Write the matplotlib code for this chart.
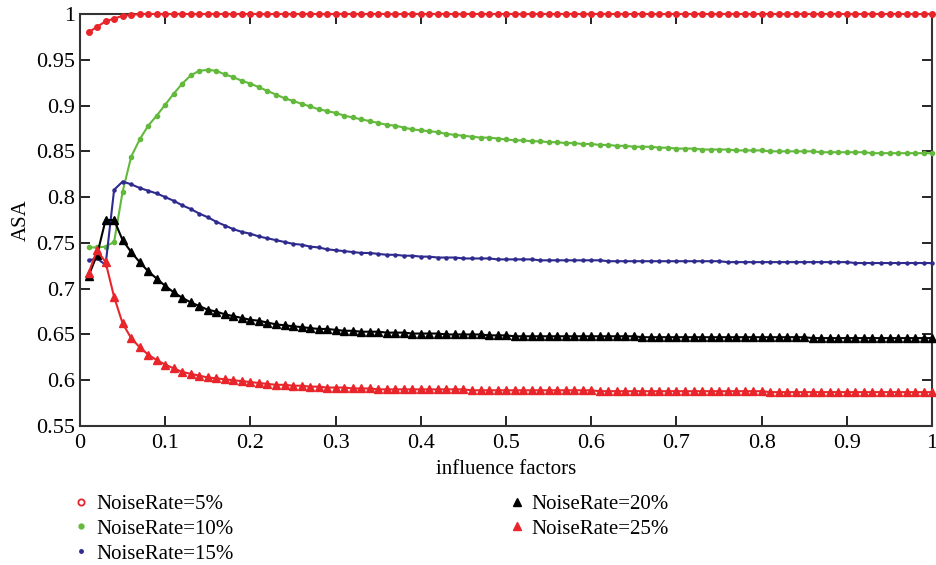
import matplotlib.pyplot as plt
from matplotlib.lines import Line2D
import numpy as np

plt.rcParams['font.family'] = ['Liberation Serif', 'DejaVu Serif']

# influence factor steps 0.01 .. 1.00
x = np.round(np.arange(1, 101) * 0.01, 2)

noise_5 = [0.980, 0.986, 0.992, 0.995, 0.998, 0.999, 1.000, 1.000, 1.000, 1.000,
           1.000, 1.000, 1.000, 1.000, 1.000, 1.000, 1.000, 1.000, 1.000, 1.000,
           1.000, 1.000, 1.000, 1.000, 1.000, 1.000, 1.000, 1.000, 1.000, 1.000,
           1.000, 1.000, 1.000, 1.000, 1.000, 1.000, 1.000, 1.000, 1.000, 1.000,
           1.000, 1.000, 1.000, 1.000, 1.000, 1.000, 1.000, 1.000, 1.000, 1.000,
           1.000, 1.000, 1.000, 1.000, 1.000, 1.000, 1.000, 1.000, 1.000, 1.000,
           1.000, 1.000, 1.000, 1.000, 1.000, 1.000, 1.000, 1.000, 1.000, 1.000,
           1.000, 1.000, 1.000, 1.000, 1.000, 1.000, 1.000, 1.000, 1.000, 1.000,
           1.000, 1.000, 1.000, 1.000, 1.000, 1.000, 1.000, 1.000, 1.000, 1.000,
           1.000, 1.000, 1.000, 1.000, 1.000, 1.000, 1.000, 1.000, 1.000, 1.000]

noise_10 = [0.745, 0.745, 0.746, 0.751, 0.806, 0.844, 0.863, 0.878, 0.889, 0.901,
            0.913, 0.924, 0.933, 0.938, 0.939, 0.938, 0.934, 0.931, 0.927, 0.924,
            0.920, 0.916, 0.912, 0.908, 0.905, 0.902, 0.899, 0.896, 0.894, 0.892,
            0.889, 0.887, 0.885, 0.883, 0.881, 0.879, 0.878, 0.876, 0.874, 0.873,
            0.872, 0.871, 0.869, 0.868, 0.867, 0.866, 0.865, 0.865, 0.864, 0.863,
            0.862, 0.862, 0.861, 0.861, 0.860, 0.860, 0.859, 0.859, 0.858, 0.858,
            0.857, 0.857, 0.856, 0.856, 0.855, 0.855, 0.855, 0.854, 0.854, 0.853,
            0.853, 0.853, 0.852, 0.852, 0.852, 0.852, 0.851, 0.851, 0.851, 0.851,
            0.850, 0.850, 0.850, 0.850, 0.850, 0.850, 0.849, 0.849, 0.849, 0.849,
            0.849, 0.849, 0.848, 0.848, 0.848, 0.848, 0.848, 0.848, 0.848, 0.848]

noise_15 = [0.731, 0.733, 0.726, 0.808, 0.817, 0.814, 0.810, 0.807, 0.804, 0.800,
            0.796, 0.791, 0.787, 0.782, 0.778, 0.773, 0.769, 0.765, 0.762, 0.760,
            0.757, 0.755, 0.753, 0.751, 0.749, 0.748, 0.746, 0.745, 0.743, 0.742,
            0.741, 0.740, 0.739, 0.739, 0.738, 0.737, 0.737, 0.736, 0.736, 0.735,
            0.735, 0.734, 0.734, 0.734, 0.733, 0.733, 0.733, 0.733, 0.732, 0.732,
            0.732, 0.732, 0.732, 0.731, 0.731, 0.731, 0.731, 0.731, 0.731, 0.731,
            0.731, 0.730, 0.730, 0.730, 0.730, 0.730, 0.730, 0.730, 0.730, 0.730,
            0.730, 0.730, 0.730, 0.730, 0.730, 0.729, 0.729, 0.729, 0.729, 0.729,
            0.729, 0.729, 0.729, 0.729, 0.729, 0.729, 0.729, 0.729, 0.729, 0.729,
            0.728, 0.728, 0.728, 0.728, 0.728, 0.728, 0.728, 0.728, 0.728, 0.728]

noise_20 = [0.714, 0.737, 0.775, 0.775, 0.753, 0.740, 0.729, 0.719, 0.711, 0.703,
            0.696, 0.690, 0.685, 0.681, 0.677, 0.675, 0.672, 0.670, 0.668, 0.666,
            0.665, 0.663, 0.661, 0.660, 0.659, 0.658, 0.657, 0.656, 0.656, 0.655,
            0.654, 0.654, 0.653, 0.653, 0.653, 0.652, 0.652, 0.652, 0.651, 0.651,
            0.651, 0.651, 0.650, 0.650, 0.650, 0.650, 0.650, 0.649, 0.649, 0.649,
            0.648, 0.648, 0.648, 0.648, 0.648, 0.648, 0.648, 0.648, 0.648, 0.648,
            0.648, 0.648, 0.648, 0.648, 0.648, 0.647, 0.647, 0.647, 0.647, 0.647,
            0.647, 0.647, 0.647, 0.647, 0.647, 0.647, 0.647, 0.647, 0.647, 0.647,
            0.647, 0.647, 0.647, 0.647, 0.647, 0.646, 0.646, 0.646, 0.646, 0.646,
            0.646, 0.646, 0.646, 0.646, 0.646, 0.646, 0.646, 0.646, 0.646, 0.646]

noise_25 = [0.717, 0.742, 0.729, 0.691, 0.662, 0.646, 0.636, 0.628, 0.622, 0.617,
            0.613, 0.609, 0.607, 0.605, 0.603, 0.602, 0.601, 0.600, 0.599, 0.598,
            0.597, 0.596, 0.595, 0.595, 0.594, 0.594, 0.593, 0.593, 0.592, 0.592,
            0.592, 0.591, 0.591, 0.591, 0.590, 0.590, 0.590, 0.590, 0.590, 0.590,
            0.590, 0.590, 0.590, 0.590, 0.590, 0.589, 0.589, 0.589, 0.589, 0.589,
            0.589, 0.589, 0.589, 0.589, 0.589, 0.589, 0.589, 0.589, 0.589, 0.589,
            0.588, 0.588, 0.588, 0.588, 0.588, 0.588, 0.588, 0.588, 0.588, 0.588,
            0.588, 0.588, 0.588, 0.588, 0.588, 0.588, 0.588, 0.588, 0.588, 0.588,
            0.587, 0.587, 0.587, 0.587, 0.587, 0.587, 0.587, 0.587, 0.587, 0.587,
            0.587, 0.587, 0.587, 0.587, 0.587, 0.587, 0.587, 0.587, 0.587, 0.587]

labels = ['NoiseRate=5%', 'NoiseRate=10%', 'NoiseRate=15%', 'NoiseRate=20%', 'NoiseRate=25%']

red = '#e8252a'
green = '#62b93c'
blue = '#2f2a8e'

fig = plt.figure(figsize=(9.37, 5.65), dpi=100)
ax = fig.add_axes([0.0854, 0.246, 0.9094, 0.7292])

ax.plot(x, noise_5, color=red, lw=1.5, marker='o', ms=4, clip_on=False, zorder=5)
ax.plot(x, noise_10, color=green, lw=1.5, marker='o', ms=3, clip_on=False, zorder=4)
ax.plot(x, noise_15, color=blue, lw=1.5, marker='o', ms=2.2, clip_on=False, zorder=4)
ax.plot(x, noise_20, color='black', lw=1.5, marker='^', ms=5.5, clip_on=False, zorder=4)
ax.plot(x, noise_25, color=red, lw=1.5, marker='^', ms=5.5, clip_on=False, zorder=4)

ax.set_xlim(0, 1)
ax.set_ylim(0.55, 1)
ax.set_xticks(np.arange(0, 1.01, 0.1))
ax.set_xticklabels(['0', '0.1', '0.2', '0.3', '0.4', '0.5', '0.6', '0.7', '0.8', '0.9', '1'])
ax.set_yticks(np.arange(0.55, 1.001, 0.05))
ax.set_yticklabels(['0.55', '0.6', '0.65', '0.7', '0.75', '0.8', '0.85', '0.9', '0.95', '1'])
ax.tick_params(direction='in', top=True, right=True, length=7, width=1.2, labelsize=16)
ax.tick_params(axis='x', pad=6)
for s in ax.spines.values():
    s.set_linewidth(1.5)
    s.set_color('#333333')

ax.set_xlabel('influence factors', fontsize=15, labelpad=5)
ax.set_ylabel('ASA', fontsize=15, labelpad=4)

handles = [
    Line2D([], [], ls='none', color=red, marker='o', ms=4.5, mfc='none', mew=1.3),
    Line2D([], [], ls='none', color=green, marker='o', ms=3.5),
    Line2D([], [], ls='none', color=blue, marker='o', ms=2.5),
    Line2D([], [], ls='none', color='black', marker='^', ms=5.5),
    Line2D([], [], ls='none', color=red, marker='^', ms=5.5),
]
fig.legend(handles, labels, ncol=2, loc='upper left', bbox_to_anchor=(0.078, 0.125),
           frameon=False, fontsize=15, handlelength=0.8, handletextpad=0.3,
           columnspacing=13.2, labelspacing=0.25, borderaxespad=0, borderpad=0)

fig.savefig('out.png')
